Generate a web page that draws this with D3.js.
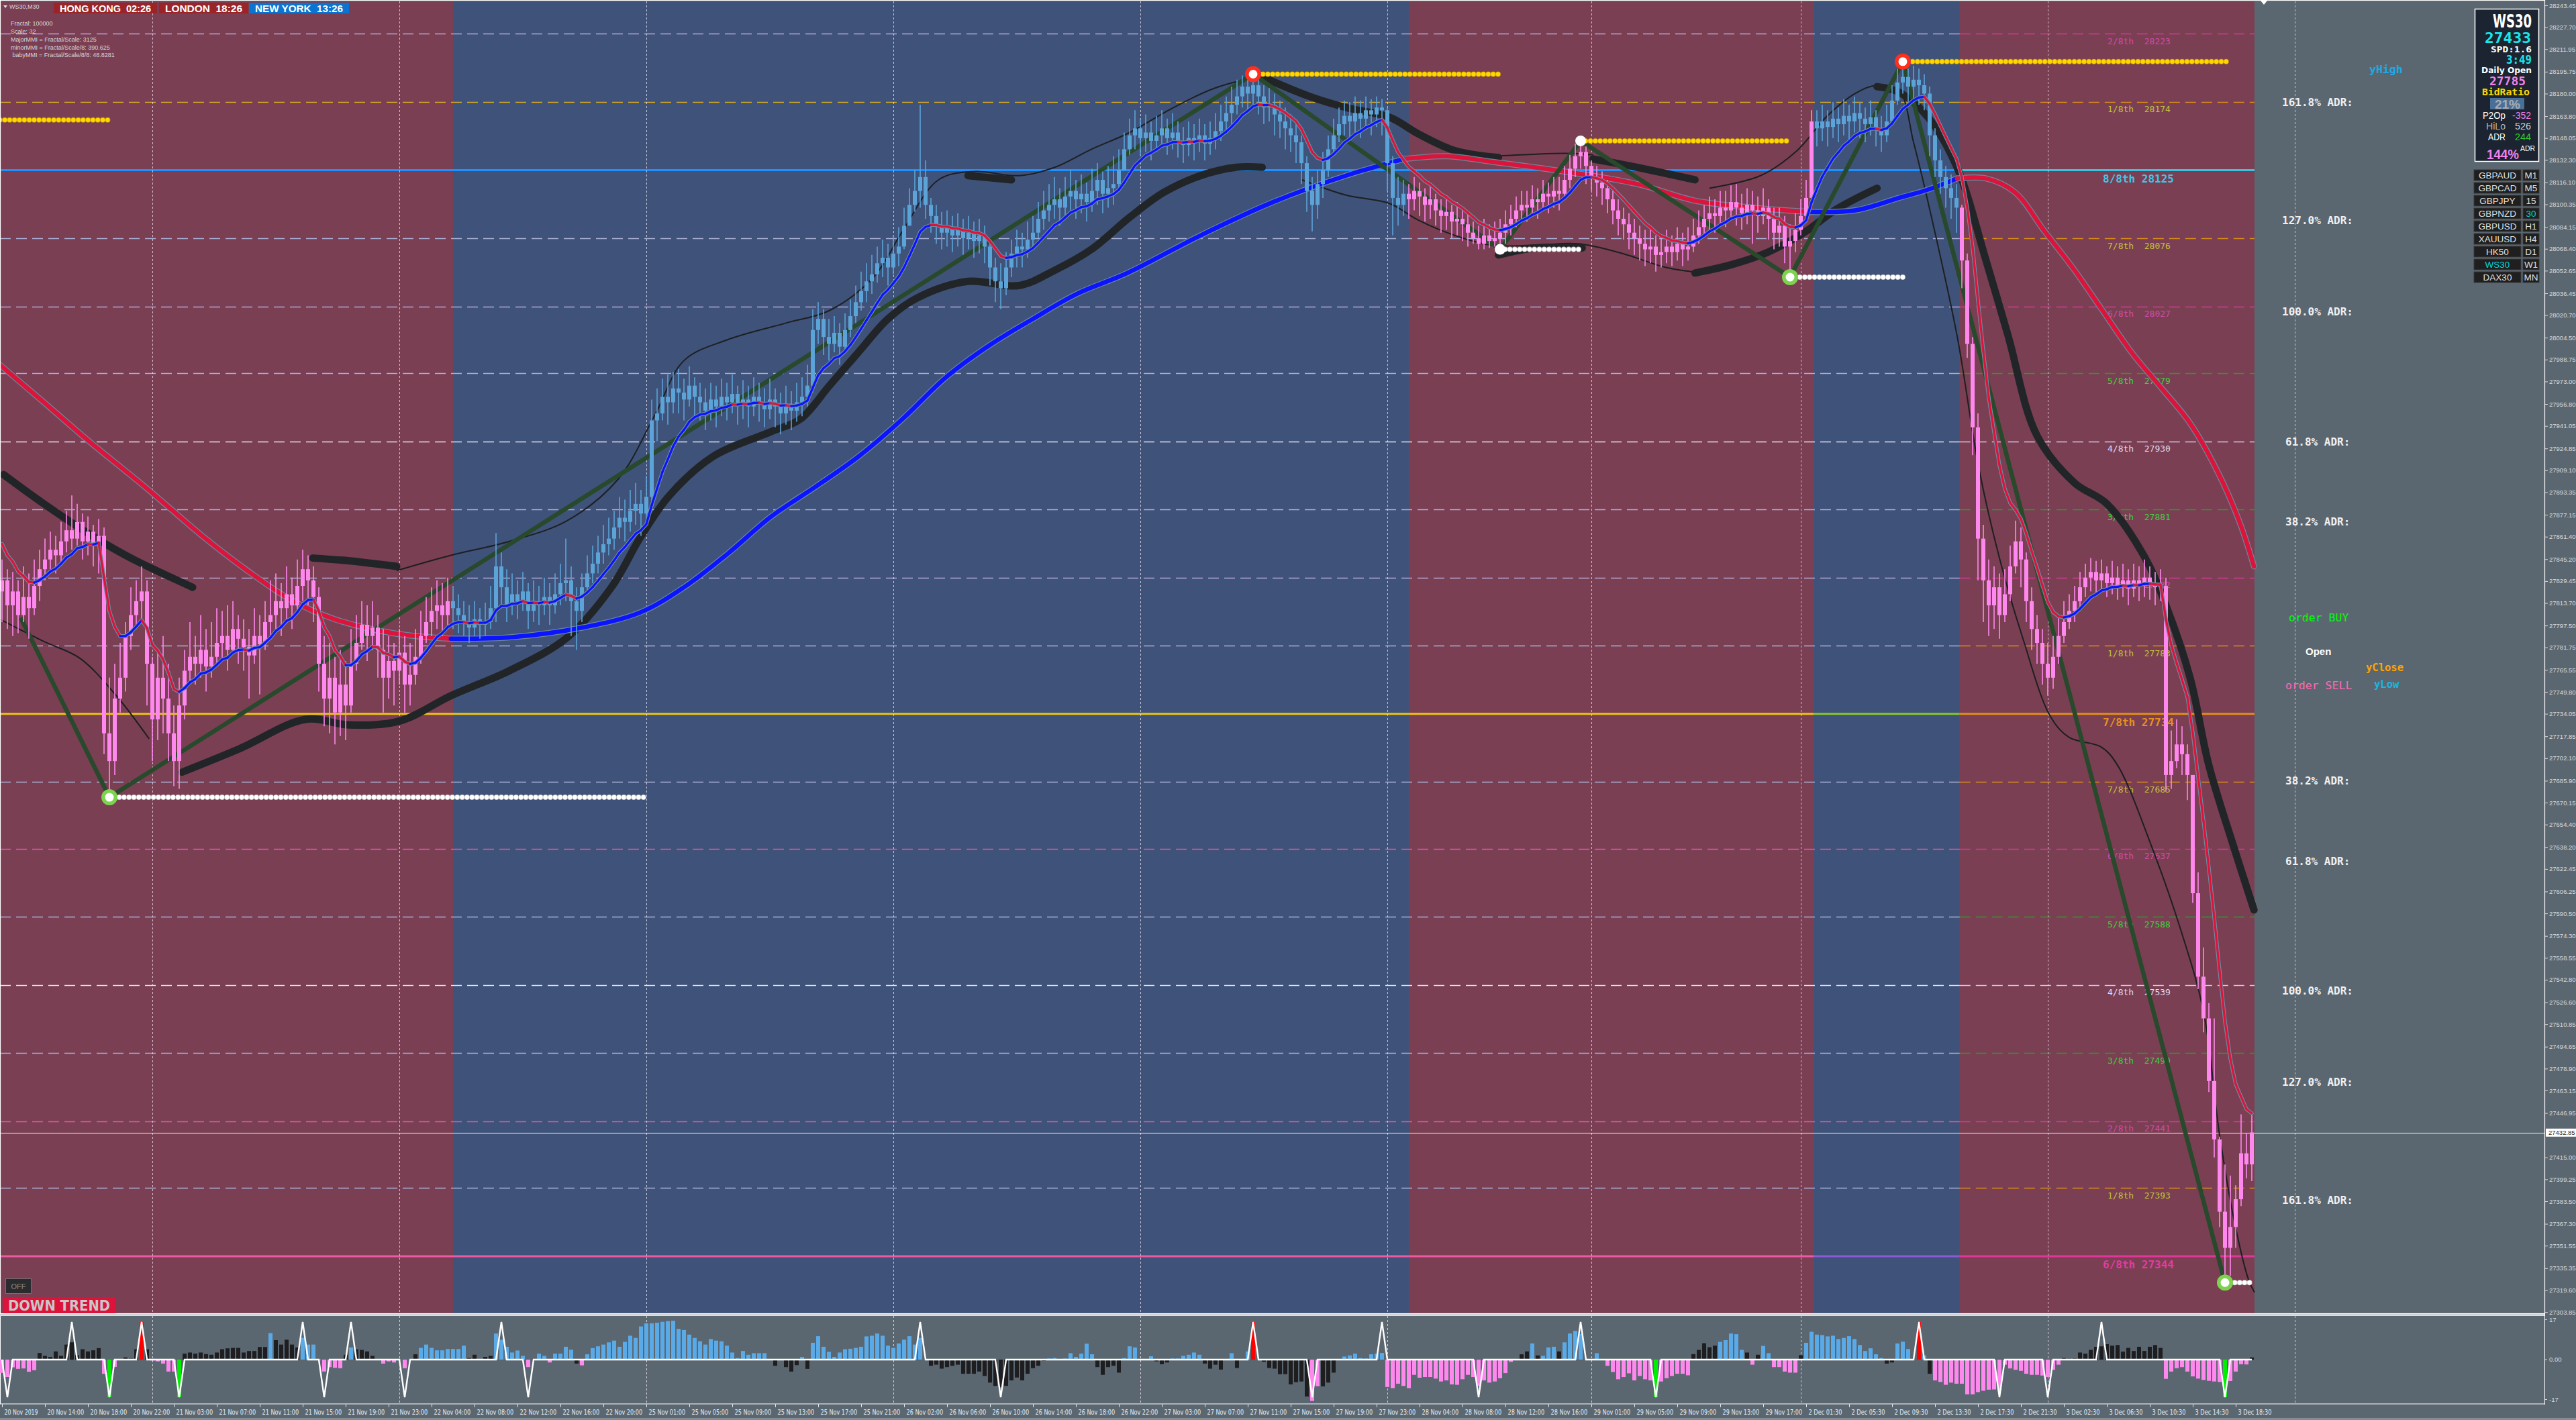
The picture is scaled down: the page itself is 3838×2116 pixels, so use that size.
<!DOCTYPE html>
<html><head><meta charset="utf-8"><title>WS30,M30</title>
<script src="https://cdn.jsdelivr.net/npm/d3@7"></script>
<style>html,body{margin:0;padding:0;background:#5b6770;overflow:hidden}svg{display:block}</style>
</head><body><svg id="chart" width="3838" height="2116"></svg>
<script>
// ---------------- DATA ----------------
const closes=[
27830,27812,27822,27805,27818,27810,27826,27838,27845,27852,
27848,27858,27866,27860,27872,27858,27865,27855,27862,27720,
27700,27745,27760,27790,27805,27815,27822,27770,27730,27760,
27745,27720,27700,27740,27765,27775,27770,27780,27768,27775,
27785,27790,27780,27795,27788,27782,27776,27790,27784,27800,
27805,27815,27810,27820,27812,27826,27838,27830,27818,27770,
27745,27760,27735,27755,27740,27770,27785,27798,27790,27796,
27780,27760,27772,27765,27778,27755,27762,27775,27790,27800,
27808,27812,27805,27815,27810,27805,27800,27796,27802,27798,
27800,27810,27840,27825,27812,27820,27815,27822,27808,27815,
27812,27818,27812,27820,27828,27830,27815,27808,27825,27835,
27842,27850,27856,27860,27868,27875,27872,27880,27885,27878,
27890,27945,27950,27962,27958,27968,27965,27960,27970,27962,
27958,27952,27960,27955,27962,27958,27964,27956,27960,27955,
27962,27958,27953,27960,27955,27950,27957,27952,27958,27962,
27970,28010,28018,28005,28000,28008,27998,28010,28020,28030,
28038,28045,28050,28058,28062,28055,28065,28070,28085,28100,
28110,28120,28100,28092,28085,28080,28084,28078,28082,28076,
28080,28074,28078,28070,28055,28045,28040,28055,28065,28070,
28068,28075,28080,28090,28096,28100,28104,28098,28106,28110,
28104,28108,28102,28110,28118,28108,28112,28115,28125,28140,
28150,28155,28148,28152,28146,28150,28155,28148,28152,28146,
28143,28148,28145,28150,28144,28148,28153,28160,28166,28172,
28178,28185,28180,28186,28178,28170,28172,28165,28160,28155,
28150,28145,28130,28110,28100,28115,28125,28140,28150,28158,
28164,28160,28166,28162,28168,28165,28170,28168,28130,28105,
28100,28108,28104,28110,28106,28100,28104,28096,28092,28095,
28088,28090,28086,28080,28076,28072,28078,28074,28076,28080,
28086,28090,28096,28100,28098,28104,28102,28108,28106,28110,
28108,28118,28126,28135,28138,28128,28120,28116,28112,28104,
28096,28090,28086,28080,28076,28072,28068,28070,28064,28066,
28070,28066,28072,28068,28070,28078,28084,28090,28094,28092,
28098,28096,28102,28098,28094,28100,28096,28092,28098,28090,
28080,28085,28070,28074,28082,28092,28105,28160,28155,28160,
28156,28162,28158,28164,28160,28166,28162,28158,28163,28155,
28150,28160,28175,28188,28192,28185,28190,28186,28180,28150,
28132,28120,28112,28105,28098,28060,28000,27940,27860,27830,
27812,27825,27805,27820,27840,27858,27845,27815,27795,27785,
27770,27760,27775,27790,27800,27808,27815,27825,27832,27836,
27830,27835,27828,27832,27826,27830,27824,27830,27826,27832,
27828,27825,27826,27690,27700,27712,27705,27690,27605,27545,
27515,27470,27428,27376,27350,27365,27385,27418,27410,27433];
const highs=[
27845,27838,27836,27830,27840,27835,27845,27852,27860,27865,
27862,27872,27880,27891,27885,27878,27876,27870,27874,27868,
27760,27770,27785,27800,27825,27830,27840,27830,27775,27780,
27790,27770,27740,27760,27780,27800,27790,27805,27795,27800,
27810,27808,27812,27815,27805,27802,27795,27810,27805,27815,
27830,27835,27828,27840,27832,27845,27852,27848,27840,27825,
27790,27785,27775,27780,27772,27795,27805,27815,27812,27815,
27805,27795,27790,27785,27795,27790,27785,27795,27808,27818,
27825,27830,27828,27832,27826,27820,27815,27812,27815,27810,
27814,27826,27864,27850,27838,27835,27830,27836,27828,27830,
27826,27832,27828,27835,27842,27860,27840,27825,27835,27848,
27855,27862,27870,27875,27880,27890,27888,27895,27900,27895,
27905,27960,27968,27975,27978,27980,27982,27975,27984,27976,
27972,27968,27972,27970,27975,27972,27978,27970,27974,27970,
27976,27972,27968,27975,27968,27965,27970,27966,27972,27976,
27985,28025,28030,28025,28018,28020,28015,28022,28032,28042,
28052,28058,28064,28070,28075,28072,28078,28084,28098,28112,
28125,28172,28132,28105,28100,28095,28096,28092,28094,28090,
28092,28088,28090,28085,28075,28062,28058,28066,28075,28082,
28080,28088,28092,28102,28110,28115,28120,28112,28120,28125,
28118,28122,28116,28126,28130,28124,28128,28135,28140,28152,
28162,28168,28162,28165,28160,28164,28168,28162,28166,28160,
28156,28160,28158,28162,28158,28160,28166,28172,28178,28185,
28190,28193,28190,28194,28190,28186,28184,28180,28175,28170,
28165,28160,28150,28135,28120,28125,28138,28150,28162,28170,
28175,28174,28178,28175,28178,28176,28178,28176,28170,28135,
28120,28118,28115,28120,28116,28112,28114,28108,28104,28106,
28100,28102,28098,28094,28088,28085,28090,28086,28088,28090,
28096,28100,28106,28110,28110,28114,28112,28118,28116,28120,
28120,28128,28136,28144,28146,28142,28132,28128,28124,28118,
28110,28104,28098,28094,28090,28085,28082,28082,28078,28078,
28082,28078,28084,28080,28084,28090,28096,28100,28106,28104,
28110,28110,28114,28115,28108,28112,28110,28106,28112,28104,
28098,28098,28092,28086,28094,28104,28118,28168,28168,28172,
28168,28174,28170,28176,28172,28178,28174,28170,28175,28168,
28164,28172,28186,28198,28203,28198,28200,28198,28194,28185,
28155,28140,28128,28122,28115,28100,28065,28005,27950,27870,
27845,27840,27835,27838,27855,27873,27868,27850,27825,27805,
27795,27785,27790,27805,27815,27820,27826,27836,27842,27846,
27844,27845,27840,27844,27840,27842,27838,27842,27840,27845,
27840,27836,27838,27832,27722,27730,27725,27712,27690,27620,
27566,27526,27515,27430,27410,27402,27395,27446,27432,27446];
const lows=[
27800,27795,27790,27792,27800,27788,27805,27815,27830,27838,
27835,27842,27850,27852,27855,27845,27848,27840,27835,27705,
27674,27690,27735,27750,27780,27795,27800,27740,27700,27715,
27720,27700,27682,27680,27730,27755,27755,27760,27750,27760,
27770,27772,27765,27778,27770,27765,27745,27770,27748,27780,
27790,27795,27790,27800,27795,27808,27815,27812,27800,27750,
27725,27720,27712,27718,27715,27735,27765,27780,27772,27780,
27760,27735,27745,27740,27755,27735,27740,27755,27770,27785,
27790,27795,27790,27798,27795,27792,27790,27785,27790,27788,
27790,27795,27800,27810,27800,27805,27802,27808,27795,27800,
27798,27805,27798,27806,27812,27815,27790,27780,27800,27820,
27828,27835,27842,27848,27852,27860,27858,27865,27870,27862,
27870,27885,27930,27945,27942,27950,27950,27945,27955,27948,
27945,27938,27945,27940,27948,27945,27950,27942,27946,27940,
27948,27944,27940,27946,27940,27935,27942,27938,27944,27948,
27955,27965,28000,27992,27988,27994,27985,27995,28005,28015,
28024,28030,28036,28044,28048,28042,28050,28056,28068,28085,
28095,28098,28090,28080,28072,28068,28070,28066,28070,28064,
28068,28062,28065,28058,28042,28030,28025,28035,28048,28055,
28055,28062,28068,28076,28082,28088,28090,28085,28092,28096,
28090,28094,28088,28095,28100,28094,28098,28100,28110,28125,
28136,28140,28135,28138,28132,28138,28142,28136,28140,28134,
28130,28135,28132,28138,28132,28136,28140,28146,28152,28158,
28165,28170,28168,28172,28165,28158,28160,28150,28148,28140,
28138,28130,28115,28095,28081,28090,28105,28120,28135,28145,
28150,28148,28152,28148,28154,28150,28156,28150,28110,28078,
28085,28092,28090,28096,28092,28088,28090,28085,28080,28082,
28076,28078,28074,28070,28072,28068,28068,28069,28070,28068,
28072,28078,28084,28088,28088,28092,28090,28096,28094,28098,
28096,28104,28112,28120,28126,28115,28110,28106,28100,28094,
28086,28078,28075,28068,28064,28060,28056,28058,28052,28055,
28058,28056,28060,28056,28060,28066,28072,28078,28082,28080,
28086,28084,28090,28085,28082,28086,28072,28080,28086,28075,
28068,28070,28058,28048,28066,28078,28088,28100,28142,28146,
28142,28148,28145,28150,28146,28152,28148,28145,28150,28142,
28138,28145,28158,28172,28180,28172,28176,28172,28168,28135,
28120,28108,28098,28090,28080,28040,27990,27920,27830,27800,
27790,27795,27788,27800,27815,27835,27825,27800,27780,27770,
27755,27747,27752,27770,27785,27795,27800,27810,27818,27822,
27820,27822,27818,27820,27816,27818,27812,27818,27815,27818,
27816,27812,27815,27678,27680,27695,27690,27672,27598,27536,
27505,27462,27415,27365,27325,27330,27350,27380,27400,27398];
const firstOpen=27822;
const currentPrice=27432.85;

// session (background trend) regions, in bar units
const sessionStart=[-0.5,84,262,337.4,364.6];
const sessionEnd=[84,262,337.4,364.6,419.5];
const sessionTrend=['down','up','down','up','down'];
// day separators (bar index)
const daySeps=[28,74,120,166,212,258,296,335,381,427];

// Murrey math levels
const murreyLevels=[28223,28174,28076,28027,27979,27930,27881,27832,27783,27685,27637,27588,27539,27490,27441,27393];
const murreyNames=["2/8th","1/8th","7/8th","6/8th","5/8th","4/8th","3/8th","2/8th","1/8th","7/8th","6/8th","5/8th","4/8th","3/8th","2/8th","1/8th"];
const majorLevels=[28125,27734,27344];
const majorNames=["8/8th","7/8th","6/8th"];

// ADR levels
const dailyOpen=27785, adrValue=244;
const adrRatios=[1.618,1.27,1.0,0.618,0.382,-0.382,-0.618,-1.0,-1.27,-1.618];
const adrLabels=["161.8% ADR:","127.0% ADR:","100.0% ADR:","61.8% ADR:","38.2% ADR:","38.2% ADR:","61.8% ADR:","100.0% ADR:","127.0% ADR:","161.8% ADR:"];
const orderBuy=27809, orderSell=27760, yClose=27772, yLow=27766, yHigh=28203;

// indicator lines: [bar, price]
const thinBlack=[
[[-0.4,27802],[7.8,27786],[14.5,27774],[21.3,27747],[27.4,27716]],
[[73.5,27837],[83.6,27848],[94.5,27858],[105.3,27873],[114.8,27903],[121.6,27949],[127,27988],[135.1,28003],[146,28015],[154.1,28024],[162.3,28048],[167.7,28081],[174.4,28118],[181.2,28124],[189.4,28121],[196.1,28127],[202.9,28140],[210,28152],[217.7,28169],[225.9,28184],[232.6,28190],[238.1,28187]],
[[242.1,28118],[250.3,28107],[258.4,28101],[263.8,28089],[270.6,28078],[277.4,28071],[285.5,28071],[293.6,28072],[301.8,28065],[309.9,28055],[316.7,28051]],
[[266.5,28134],[277.4,28135],[290.9,28137],[296.3,28136]],
[[318,28112],[327.5,28121],[334.3,28139],[339.7,28163],[345.1,28180],[349.2,28186],[353.3,28182],[356,28145],[358.7,28102],[364.1,28006],[368.2,27910],[372.2,27843],[376.3,27789],[381.5,27732],[385,27717],[391,27710],[394,27697],[400.5,27637],[405.9,27577],[410,27520],[413,27431],[415.9,27366],[418.4,27327],[419.5,27318]]
];
const thickBlack=[
[[0.3,27906],[7.8,27885],[17.2,27861],[24,27846],[35.5,27825]],
[[57.9,27846],[64.7,27844],[73.5,27840]],
[[33.5,27692],[44.3,27709],[56.5,27730],[64.7,27726],[74.2,27729],[83.6,27747],[94.5,27765],[105.3,27789],[113.5,27825],[118.9,27861],[124.3,27891],[132.4,27919],[143.3,27937],[148.7,27946],[154.1,27970],[159.5,27994],[165,28018],[170.4,28033],[179.9,28045],[189.4,28042],[196.1,28053],[202.9,28068],[210,28091],[216.4,28109],[223.2,28121],[229.9,28127],[234.7,28127]],
[[179.9,28121],[188,28118]],
[[234.7,28192],[243.5,28178],[250.3,28170],[258.4,28163],[263.8,28151],[270.6,28139],[278.7,28134]],
[[296.3,28133],[304.5,28127],[315.3,28118]],
[[278.7,28064],[285.5,28069],[294.3,28069]],
[[315.3,28051],[322.1,28057],[328.9,28066],[335.6,28080],[341.7,28097],[349.2,28112]],
[[349.2,28185],[353.3,28181],[358.7,28163],[364.1,28127],[369.5,28060],[373.6,28006],[379,27934],[386,27900],[392,27885],[399,27847],[403,27812],[407.5,27760],[411,27697],[415.5,27640],[419.4,27593]]
];
const slowMA=[
[[-0.4,27985],[7.8,27958],[15.9,27931],[26.7,27897],[37.6,27861],[45.7,27837],[53.8,27816],[62,27802],[72.8,27792],[83.6,27788]],
[[83.6,27788],[94.5,27789],[108,27796],[118.9,27807],[127,27825],[135.1,27849],[143.3,27876],[151.4,27897],[159.5,27919],[167.7,27946],[175.8,27976],[183.9,27999],[192,28018],[200.2,28036],[209.6,28051],[223.2,28078],[236.7,28102],[250.3,28121],[261.1,28133]],
[[261.1,28133],[269.2,28135],[277.4,28131],[290.9,28124],[304.5,28115],[315.3,28103],[326.2,28098],[336.3,28095]],
[[336.3,28095],[345.1,28096],[353.3,28105],[358.7,28111],[364.1,28119]],
[[364.1,28119],[369.5,28119],[374.9,28109],[380.4,28081],[385.8,28054],[391.2,28024],[396.6,27994],[402,27969],[407.5,27943],[412.9,27906],[416.9,27870],[419.4,27840]]
];
const slowMADir=['down','up','down','up','down'];
const fastPeriod=10, fastSeed=27862;
const zigzag=[[3.5,27803],[20,27674],[233,28194],[279,28068],[294,28146],[333,28048],[354,28203],[414,27325]];
const fractals=[
{bar:20,type:'low',kind:'green',to:120},
{bar:233,type:'high',kind:'red',to:279.4},
{bar:279,type:'low',kind:'white',to:294.4},
{bar:294,type:'high',kind:'white',to:333},
{bar:333,type:'low',kind:'green',to:354.3},
{bar:354,type:'high',kind:'red',to:414.5},
{bar:414,type:'low',kind:'green',to:419.4}];
const priorHigh={price:28161,from:-0.4,to:20.3};

// oscillator sub-window
const histVal=[
-6,-7.9,-3.5,-4.2,-4,-5.5,-4.8,3,1.7,1.2,
3.7,1.7,6.8,7.8,2,4.7,3.7,4.2,5.2,-6.4,
-17,-3.3,0,1,0.5,4.7,17,4.7,-0.4,-0.8,
-1.8,-5.4,-5.4,-17,2.7,3.2,2.7,3.2,2.5,2.2,
3.2,4.7,5.1,5.3,5.3,3.2,3.9,3.9,5.7,5.7,
12,8.8,6.8,9,6.8,5.5,9.9,6.8,6.8,-0.3,
-5.4,-3.4,-3.7,-3.9,2.2,5.5,4.7,4.4,3.7,1.7,
0,-1.8,-0.8,-1.3,-0.3,-3.9,0,2.4,5.3,6.8,
5.3,4.2,4.2,4.8,4.8,4.8,6.3,0.7,2.2,0,
1.2,1.7,11.8,9,5.8,3.2,4.1,1.7,-3.4,0,
2.7,1.7,-1.3,2.7,2.7,5.8,4.5,-1.8,-2.6,2.4,
5.2,6,6.8,7.8,8.6,5.8,8,10.8,9.8,15,
16.4,16.4,16.7,17.1,17.4,17.6,13.9,13.4,11.3,9.8,
8.3,6.8,9.3,8.6,8.3,6.3,3.2,0.7,3.9,2.2,
2.9,2.9,2.9,0,-2.8,0,-3.4,-5.4,-2.5,1.2,
-4.2,7.6,10.6,5.8,3.5,1.2,3.2,4.7,4.9,5.3,
5.8,10.5,10.8,11.8,10.8,6.3,5.3,7.3,9,10.6,
6.8,9.8,0,-2.8,-2.3,-4.1,-3.4,-2.8,-2.3,-6.4,
-6.4,-6.4,-5.4,-7.4,-10.4,-11.9,-12.5,-11.9,-9.4,-8.1,
-9.4,-6.4,-3.9,-2.8,-0.6,0.5,0.7,0.3,0.5,2.9,
1.2,2.7,7.2,2.4,-3.4,-6.9,-3.4,-2.8,-5.9,0.7,
6,5.5,0,-0.3,1.5,-0.8,-2.1,-1.3,0.5,0.5,
1.7,2.2,3.2,2.2,-1.8,-4.1,-2.3,-4.5,0,2.9,
-3.8,0,3.7,17,0,-1,-3.8,-4.1,-6.6,-6.6,
-11.2,-10.2,-9.9,-16.7,-18.7,-12,-12.1,-10.4,-5.9,0,
1.4,1.9,2.7,0.7,0.5,2.4,2.7,3,-12.4,-12.9,
-10.9,-11.9,-12.9,-6.9,-8.2,-7.9,-7.9,-8.6,-9.9,-9.4,
-11.2,-11.4,-8.9,-6.9,-7.9,-11.9,-9.4,-10.4,-9.9,-8.4,
-6.1,-1,0,2.4,3.7,7.3,1.9,1.7,5.5,5.8,
3.7,7.8,11.8,13,11.6,0,0,2.9,0,-2.8,
-5.6,-8.9,-7.9,-6.2,-9.4,-7.4,-8.9,-9.4,-17,-9.9,
-8.4,-7.4,-6.4,-6.4,-7.1,2.5,4.4,7.4,5.6,6.3,
8,8.8,11.8,11.5,4.4,3.2,-2.3,2.2,6.2,2.9,
-3.4,-3.4,-5.4,-5.9,-5.9,2,7.6,12.6,11.3,11.1,
10.5,10.8,9.3,9.8,10.6,9.3,6.6,3.9,5.1,2.4,
0.7,-1.8,-1.3,7.3,8.1,4.8,0,17,1.9,-6.4,
-9.4,-10.1,-11.4,-10.4,-10.9,-10.9,-15.7,-15.7,-14.7,-14.1,
-13.6,-13.5,-14,-2.3,-4,-4.6,-5.1,-6.4,-6.9,-6.9,
-7.2,-7.9,-4.6,-2.3,0.7,0.4,0.5,3.2,2.7,4.4,
5.8,6,7,6.3,6.6,3.6,5.3,3.9,5.8,3.9,
5.8,6.6,5.3,-8.7,-5.4,-3.9,-3.4,-5.4,-7.6,-8.6,
-9.2,-9.6,-9.9,-10.1,-17,-9.7,-5.4,-2.1,-2.2,1];
const histClass=(
"pppppppkkk"+"kkkkkkkkkp"+"gpkkkkrkpp"+"pppgkkkkkk"+"kkkkkkkkkk"+
"bkkkkkbbbp"+"ppppkbkkkk"+"kpppppkkbb"+"bbbbbbbkkk"+"kkbbbbbbpk"+
"bbpbbbbkpb"+"bbbbbbbbbb"+"bbbbbbbbbb"+"bbbbbbbbbb"+"bbbkkkkkkb"+
"kbbbbbbbbb"+"bbbbbbbbbb"+"bbkkkkkkkk"+"kkkkkkkkkk"+"kkkkkbbbbb"+
"bbbbkkkkkb"+"bbkkbkkkbb"+"bbbbkkkkkb"+"kkbrkkkkkk"+"kkkkppkkkk"+
"bbbbbbbbpp"+"pppppppppp"+"pppppppppp"+"ppkkkbkbbb"+"kbbbbkkbkp"+
"ppppppppgp"+"pppppkkkkk"+"bbbbbkpkbb"+"pppppkbbbb"+"bbbbbbbbbb"+
"bkkbbbkrbk"+"pppppppppp"+"pppppppppp"+"ppppkkkkkk"+"kkkkkkkkkk"+
"kkkppppppp"+"ppppgppppk").split('');
const spikeUp=[13,26,56,65,93,171,233,257,294,357,391];
const spikeDown=[1,20,33,60,75,98,186,244,275,308,372,381,414];

// axes
const priceTicks=[28243.45,28227.70,28211.95,28195.75,28180.00,28163.80,28148.05,28132.30,28116.10,28100.35,28084.15,28068.40,28052.65,28036.45,28020.70,28004.50,27988.75,27973.00,27956.80,27941.05,27924.85,27909.10,27893.35,27877.15,27861.40,27845.20,27829.45,27813.70,27797.50,27781.75,27765.55,27749.80,27734.05,27717.85,27702.10,27685.90,27670.15,27654.40,27638.20,27622.45,27606.25,27590.50,27574.30,27558.55,27542.80,27526.60,27510.85,27494.65,27478.90,27463.15,27446.95,27415.00,27399.25,27383.50,27367.30,27351.55,27335.35,27319.60,27303.85];
const timeLabels=["20 Nov 2019","20 Nov 14:00","20 Nov 18:00","20 Nov 22:00","21 Nov 03:00","21 Nov 07:00","21 Nov 11:00","21 Nov 15:00","21 Nov 19:00","21 Nov 23:00","22 Nov 04:00","22 Nov 08:00","22 Nov 12:00","22 Nov 16:00","22 Nov 20:00","25 Nov 01:00","25 Nov 05:00","25 Nov 09:00","25 Nov 13:00","25 Nov 17:00","25 Nov 21:00","26 Nov 02:00","26 Nov 06:00","26 Nov 10:00","26 Nov 14:00","26 Nov 18:00","26 Nov 22:00","27 Nov 03:00","27 Nov 07:00","27 Nov 11:00","27 Nov 15:00","27 Nov 19:00","27 Nov 23:00","28 Nov 04:00","28 Nov 08:00","28 Nov 12:00","28 Nov 16:00","29 Nov 01:00","29 Nov 05:00","29 Nov 09:00","29 Nov 13:00","29 Nov 17:00","2 Dec 01:30","2 Dec 05:30","2 Dec 09:30","2 Dec 13:30","2 Dec 17:30","2 Dec 21:30","3 Dec 02:30","3 Dec 06:30","3 Dec 10:30","3 Dec 14:30","3 Dec 18:30"];
const subTicks=[17,0,-17];

// info panel values
const symbolName='WS30', timeframe='M30', bidPrice=27433, spread='1.6', barTimer='3:49';
const bidRatio=21, p2op=-352, hiLo=526, adrPct=144;
const clocks=[["HONG KONG","02:26"],["LONDON","18:26"],["NEW YORK","13:26"]];
const symbols=["GBPAUD","GBPCAD","GBPJPY","GBPNZD","GBPUSD","XAUUSD","HK50","WS30","DAX30"];
const periods=["M1","M5","15","30","H1","H4","D1","W1","MN"];
const mmiInfo=["Fractal: 100000","Scale: 32","MajorMMI = Fractal/Scale: 3125","minorMMI = Fractal/Scale/8: 390.625","\u00a0babyMMI = Fractal/Scale/8/8: 48.8281"];

// ---------------- DRAWING ----------------
const W=3838,H=2116,AX=3791;
const MONO='"DejaVu Sans Mono","Liberation Mono",monospace';
const SANS='"Liberation Sans",Arial,sans-serif';
const NARROW='"Liberation Sans Narrow","DejaVu Sans Condensed","Liberation Sans",sans-serif';
const svg=d3.select('#chart');
const N=closes.length;
const x=d3.scaleLinear().domain([0,419]).range([3,3355]);
const y=d3.scaleLinear().domain([27303.85,28243.45]).range([1955.1,8]);
const ys=d3.scaleLinear().domain([-17,17]).range([2082,1970]);

svg.append('rect').attr('width',W).attr('height',H).attr('fill','#5b6770');
const defs=svg.append('defs');
defs.append('clipPath').attr('id','mc').append('rect').attr('x',1).attr('y',2).attr('width',AX-1).attr('height',1955);
const main=svg.append('g').attr('clip-path','url(#mc)');

const trendFill={down:'#7a3f53',up:'#3f5279'};
sessionStart.forEach((s,i)=>main.append('rect').attr('x',x(s)).attr('y',2)
  .attr('width',x(sessionEnd[i])-x(s)).attr('height',1956).attr('fill',trendFill[sessionTrend[i]]));
function trendAt(b){for(let i=0;i<sessionStart.length;i++){if(b>=sessionStart[i]&&b<sessionEnd[i])return sessionTrend[i];}return 'down';}

// Murrey lines
const lastX=x(sessionStart[4]), midX=x(sessionStart[3]), endX=x(sessionEnd[4]);
const kindOf=n=>({'1/8th':'o','7/8th':'o','2/8th':'p','6/8th':'p','3/8th':'g','5/8th':'g','4/8th':'w'})[n];
const newLine={o:'#d98c1a',p:'#cf3c96',g:'#2c9a2c',w:'#d4c8e6'};
const newText={o:'#c4c238',p:'#d24aa6',g:'#3ed03e',w:'#e0d8ee'};
function oldLine(n,lv){const k=kindOf(n);if(k==='o')return lv>28100?'#d8aa22':'#aab0d6';if(k==='p')return lv<27700?'#dc5aa4':'#b6a8d6';if(k==='w')return '#e2e2f0';return '#aab0d6';}
murreyLevels.forEach((lv,i)=>{
  const yy=Math.round(y(lv))+0.5, k=kindOf(murreyNames[i]);
  main.append('line').attr('x1',0).attr('x2',lastX).attr('y1',yy).attr('y2',yy)
    .attr('stroke',oldLine(murreyNames[i],lv)).attr('stroke-width',1.3).attr('stroke-dasharray','16,8');
  main.append('line').attr('x1',lastX).attr('x2',endX).attr('y1',yy).attr('y2',yy)
    .attr('stroke',newLine[k]).attr('stroke-width',1.3).attr('stroke-dasharray','16,8');
  main.append('text').attr('x',3140).attr('y',y(lv)+11).attr('dominant-baseline','central')
    .attr('fill',newText[k]).style('font-family',MONO).style('font-size','13px')
    .text(murreyNames[i]+'\u00a0\u00a0'+lv);
});
const majorCols=[['#1e90ff','#1e90ff','#38c4e0'],['#ecc414','#86c82a','#e08e1c'],['#ee5aa0','#8c5ad2','#e0369a']];
const majorText=['#3cc8e8','#e8901c','#e03ca0'];
majorLevels.forEach((lv,i)=>{
  const yy=y(lv);
  [[0,midX],[midX,lastX],[lastX,endX]].forEach((s,j)=>main.append('line').attr('x1',s[0]).attr('x2',s[1])
    .attr('y1',yy).attr('y2',yy).attr('stroke',majorCols[i][j]).attr('stroke-width',3));
  main.append('text').attr('x',3133).attr('y',yy+13).attr('dominant-baseline','central')
    .attr('fill',majorText[i]).style('font-family',MONO).style('font-size','16px').style('font-weight','bold')
    .text(majorNames[i]+'\u00a0'+lv);
});

// day separators
daySeps.forEach(b=>{const xx=Math.round(x(b))+0.5;
  main.append('line').attr('x1',xx).attr('x2',xx).attr('y1',2).attr('y2',1957)
   .attr('stroke','#ece2ee').attr('stroke-opacity',0.8).attr('stroke-width',1).attr('stroke-dasharray','3,3');});
// current price line
main.append('line').attr('x1',0).attr('x2',AX).attr('y1',Math.round(y(currentPrice))+0.5).attr('y2',Math.round(y(currentPrice))+0.5)
  .attr('stroke','#ffffff').attr('stroke-width',1);

const smooth=d3.line().x(d=>x(d[0])).y(d=>y(d[1])).curve(d3.curveCatmullRom.alpha(0.5));
const straight=d3.line().x(d=>x(d[0])).y(d=>y(d[1]));
thinBlack.forEach(seg=>main.append('path').attr('d',smooth(seg)).attr('fill','none').attr('stroke','#1d1f22').attr('stroke-width',2));
thickBlack.forEach(seg=>main.append('path').attr('d',smooth(seg)).attr('fill','none').attr('stroke','#222528')
  .attr('stroke-width',11).attr('stroke-linecap','round').attr('stroke-linejoin','round'));
const maCol={up:'#0a14ff',down:'#dc143c'};
slowMA.forEach(seg=>main.append('path').attr('d',smooth(seg)).attr('fill','none').attr('stroke','#6c8598').attr('stroke-width',9).attr('stroke-linecap','round'));
slowMA.forEach((seg,i)=>main.append('path').attr('d',smooth(seg)).attr('fill','none').attr('stroke',maCol[slowMADir[i]]).attr('stroke-width',6.5).attr('stroke-linecap','round'));
main.append('path').attr('d',straight(zigzag)).attr('fill','none').attr('stroke','#28492c').attr('stroke-width',6.5).attr('stroke-linejoin','round');

// candles
const candleCol={down:'#ff88ee',up:'#5ca4d8'};
const cg=main.append('g');
closes.forEach((c,i)=>{
  const o=i?closes[i-1]:firstOpen;
  const hi=Math.max(highs[i],o,c), lo=Math.min(lows[i],o,c);
  const col=candleCol[trendAt(i)];
  cg.append('line').attr('x1',x(i)).attr('x2',x(i)).attr('y1',y(hi)).attr('y2',y(lo)).attr('stroke',col).attr('stroke-width',1.6);
  const top=Math.min(y(o),y(c)), h=Math.max(1.5,Math.abs(y(o)-y(c)));
  cg.append('rect').attr('x',x(i)-3).attr('y',top).attr('width',6).attr('height',h).attr('fill',col);
});

// fast MA (EMA of closes)
const fast=[];{let e=fastSeed;const a=2/(fastPeriod+1);closes.forEach(c=>{e=e+a*(c-e);fast.push(e);});}
const fg=main.append('g');
for(let i=1;i<N;i++) fg.append('line').attr('x1',x(i-1)).attr('y1',y(fast[i-1])).attr('x2',x(i)).attr('y2',y(fast[i]))
  .attr('stroke','#6f8aa0').attr('stroke-width',5.5).attr('stroke-linecap','round');
for(let i=1;i<N;i++) fg.append('line').attr('x1',x(i-1)).attr('y1',y(fast[i-1])).attr('x2',x(i)).attr('y2',y(fast[i]))
  .attr('stroke',fast[i]>=fast[i-1]?maCol.up:maCol.down).attr('stroke-width',3.2).attr('stroke-linecap','round');

// fractal bead lines and markers
function beads(x1,x2,yy,col){
  main.append('line').attr('x1',x1).attr('x2',x2).attr('y1',yy).attr('y2',yy).attr('stroke',col==='#ffffff'?'#c8c8c8':'#c99a00')
   .attr('stroke-width',8).attr('stroke-linecap','round').attr('stroke-dasharray','0,7.3');
  main.append('line').attr('x1',x1).attr('x2',x2).attr('y1',yy).attr('y2',yy).attr('stroke',col)
   .attr('stroke-width',6.4).attr('stroke-linecap','round').attr('stroke-dasharray','0,7.3');
}
beads(x(priorHigh.from),x(priorHigh.to),y(priorHigh.price),'#ffd700');
fractals.forEach(f=>{const p=f.type==='high'?highs[f.bar]:lows[f.bar];beads(x(f.bar),x(f.to),y(p),f.type==='high'?'#ffd700':'#ffffff');});
const ringCol={red:'#ff2e1e',green:'#7dd24e',white:'#ffffff'};
fractals.forEach(f=>{const p=f.type==='high'?highs[f.bar]:lows[f.bar];
  const r=f.kind==='white'?8:12;
  main.append('circle').attr('cx',x(f.bar)).attr('cy',y(p)).attr('r',r).attr('fill',ringCol[f.kind]);
  main.append('circle').attr('cx',x(f.bar)).attr('cy',y(p)).attr('r',f.kind==='white'?5:6.5).attr('fill','#ffffff');
});

// panel borders
svg.append('rect').attr('x',0.5).attr('y',0.5).attr('width',AX).attr('height',1957).attr('fill','none').attr('stroke','#ffffff').attr('stroke-width',1.2);
svg.append('path').attr('d','M3368,1 L3378,1 L3373,7 Z').attr('fill','#ffffff');

function T(g,s,xx,yy,o){const t=g.append('text').attr('x',xx).attr('y',yy).attr('dominant-baseline','central').text(s)
  .attr('fill',o.fill||'#ffffff').style('font-family',o.ff||SANS).style('font-size',o.fs+'px').style('font-weight',o.fw||'normal');
  if(o.anchor)t.attr('text-anchor',o.anchor); if(o.len)t.attr('textLength',o.len).attr('lengthAdjust','spacingAndGlyphs'); return t;}

// ADR labels
adrRatios.forEach((r,i)=>{const lv=dailyOpen+r*adrValue;
  T(svg,adrLabels[i],adrLabels[i].length>10?3400:3405,y(lv)+12.5,{ff:MONO,fs:16,fw:'bold',fill:'#f0f0f0'});});
T(svg,'order BUY',3410,y(orderBuy)+12,{ff:MONO,fs:16.5,fill:'#00ff00'});
T(svg,'Open',3435,y(dailyOpen)+12,{ff:SANS,fs:15,fw:'bold',fill:'#ffffff'});
T(svg,'yClose',3525,y(yClose)+10,{ff:MONO,fs:15.5,fw:'bold',fill:'#ffa500'});
T(svg,'yLow',3537,y(yLow)+23,{ff:MONO,fs:15.5,fw:'bold',fill:'#1eb4e6'});
T(svg,'order SELL',3405,y(orderSell)+12,{ff:MONO,fs:16.5,fill:'#ff69b4'});
T(svg,'yHigh',3530,y(yHigh)+12,{ff:MONO,fs:16.5,fw:'bold',fill:'#1eaae6'});

// info panel
const P=svg.append('g');
P.append('rect').attr('x',3687.5).attr('y',13.5).attr('width',95).attr('height',227).attr('fill','#1b2430').attr('stroke','#ffffff').attr('stroke-width',1.5);
T(P,symbolName,3772,32,{anchor:'end',fs:26,fw:'bold',ff:NARROW,len:58});
T(P,String(bidPrice),3771,56,{anchor:'end',fs:22,fw:'bold',ff:MONO,fill:'#19e6ee',len:69});
T(P,'SPD:'+spread,3772,73,{anchor:'end',fs:13,fw:'bold',ff:MONO,len:61});
T(P,barTimer,3772,89,{anchor:'end',fs:17,fw:'bold',ff:MONO,fill:'#19e6ee',len:38});
T(P,'Daily Open',3772,104,{anchor:'end',fs:13,fw:'bold',ff:'"DejaVu Sans",sans-serif',len:75});
T(P,String(dailyOpen),3763,121,{anchor:'end',fs:17,fw:'bold',ff:MONO,fill:'#ee82ee',len:54});
T(P,'BidRatio',3769,137,{anchor:'end',fs:14,fw:'bold',ff:MONO,fill:'#ffd700',len:71});
P.append('rect').attr('x',3710).attr('y',146).attr('width',51).attr('height',17).attr('fill','#4a6f96');
T(P,bidRatio+'%',3736,155,{anchor:'middle',fs:19,fw:'bold',fill:'#a8acb2',len:38});
T(P,'P2Op',3699,172,{fs:14,len:34});
T(P,String(p2op),3771,172,{anchor:'end',fs:14,fill:'#ee82ee',len:28});
T(P,'HiLo',3704,188,{fs:14,fill:'#b4b4b4',len:29});
T(P,String(hiLo),3771,188,{anchor:'end',fs:14,fill:'#d0d0d0',len:24});
T(P,'ADR',3707,204,{fs:14,len:26});
T(P,String(adrValue),3771,204,{anchor:'end',fs:14,fill:'#32cd32',len:24});
T(P,adrPct+'%',3705,229,{fs:21,fw:'bold',fill:'#ee82ee',len:48});
T(P,'ADR',3755,221,{fs:10,len:22});
symbols.forEach((s,k)=>{const cy=261+k*19;
  P.append('rect').attr('x',3686).attr('y',cy-8).attr('width',70).attr('height',16).attr('fill','#1f1f1f').attr('stroke','#3a3a3a');
  P.append('rect').attr('x',3759).attr('y',cy-8).attr('width',24).attr('height',16).attr('fill','#1f1f1f').attr('stroke','#3a3a3a');
  T(P,s,3721,cy,{anchor:'middle',fs:13.5,fill:s===symbolName?'#00d8d8':'#e0e0e0'});
  T(P,periods[k],3771,cy,{anchor:'middle',fs:13.5,fill:periods[k]===timeframe.slice(1)?'#00d8d8':'#e0e0e0'});
});

// header
svg.append('path').attr('d','M5,8 L11,8 L8,12 Z').attr('fill','#e0e0e0');
T(svg,symbolName+','+timeframe,14,10,{fs:9,fill:'#d8d8d8'});
const clockBox=[[80,154,'#9b2428'],[237,133,'#9b2428'],[371,149,'#0a74d0']];
clocks.forEach((c,i)=>{const b=clockBox[i];
  svg.append('rect').attr('x',b[0]).attr('y',4).attr('width',b[1]).attr('height',16).attr('fill',b[2]);
  T(svg,c[0]+'\u00a0\u00a0'+c[1],b[0]+b[1]/2,12.5,{anchor:'middle',fs:14,fw:'bold',fill:'#ffffff',len:b[1]-18});
});
mmiInfo.forEach((s,i)=>T(svg,s,16,[35,47,59,71,82][i],{fs:9,fill:'#d8d8d8'}));

// OFF / DOWN TREND
svg.append('rect').attr('x',8.5).attr('y',1905.5).attr('width',38).attr('height',22).attr('fill','#2a2b2e').attr('stroke','#707070');
T(svg,'OFF',27.5,1917,{anchor:'middle',fs:11,fill:'#8a8a8a'});
svg.append('rect').attr('x',4).attr('y',1933).attr('width',168).attr('height',24).attr('fill','#dc143c');
T(svg,'DOWN TREND',88,1945.5,{anchor:'middle',fs:21,fw:'bold',ff:NARROW,fill:'#c8c8c8',len:152});

// price axis
svg.append('line').attr('x1',AX+0.5).attr('x2',AX+0.5).attr('y1',0).attr('y2',2093).attr('stroke','#ffffff');
const pa=svg.append('g').attr('transform',`translate(${AX+1},0)`)
  .call(d3.axisRight(y).tickValues(priceTicks).tickFormat(d3.format('.2f')).tickSize(4).tickSizeOuter(0).tickPadding(2));
pa.select('.domain').remove();
pa.selectAll('line').attr('stroke','#d8d8d8');
pa.selectAll('text').attr('fill','#dcdcdc').style('font-family',SANS).style('font-size','9.5px');
svg.append('rect').attr('x',AX+2).attr('y',y(currentPrice)-6).attr('width',W-AX-2).attr('height',12).attr('fill','#ffffff');
T(svg,currentPrice.toFixed(2),AX+6,y(currentPrice),{fs:9.5,fill:'#2a2a2a'});

// sub window
const sub=svg.append('g');
sub.append('line').attr('x1',0).attr('x2',AX).attr('y1',1958.5).attr('y2',1958.5).attr('stroke','#ffffff');
sub.append('rect').attr('x',0.5).attr('y',1960.5).attr('width',AX).attr('height',131.5).attr('fill','#5b6770').attr('stroke','#ffffff');
daySeps.forEach(b=>{const xx=Math.round(x(b))+0.5;
  sub.append('line').attr('x1',xx).attr('x2',xx).attr('y1',1961).attr('y2',2092)
   .attr('stroke','#ece2ee').attr('stroke-opacity',0.85).attr('stroke-dasharray','3,3');});
const histCol={b:'#5aaae8',k:'#1e1e20',p:'#ff88ee',r:'#ff0000',g:'#00ee00'};
histVal.forEach((v,i)=>{if(!v)return;
  const y0=ys(0), y1=ys(v);
  sub.append('rect').attr('x',x(i)-3).attr('width',6).attr('y',Math.min(y0,y1)).attr('height',Math.abs(y1-y0)).attr('fill',histCol[histClass[i]]);
});
const zz=closes.map((c,i)=>spikeUp.includes(i)?17:spikeDown.includes(i)?-17:0);
sub.append('path').attr('d',d3.line().x((d,i)=>x(i)).y(d=>ys(d))(zz)).attr('fill','none').attr('stroke','#ffffff').attr('stroke-width',2.4).attr('stroke-linejoin','miter');
const subLab=d3.scaleLinear().domain([-17,17]).range([2085,1966]);
const sa=svg.append('g').attr('transform',`translate(${AX+1},0)`)
  .call(d3.axisRight(subLab).tickValues(subTicks).tickFormat(d=>d===0?'0.00':String(d)).tickSize(3).tickSizeOuter(0).tickPadding(3));
sa.select('.domain').remove();
sa.selectAll('line').attr('stroke','#d8d8d8');
sa.selectAll('text').attr('fill','#dcdcdc').style('font-family',SANS).style('font-size','9.5px');

// time axis
const ta=svg.append('g').attr('transform','translate(0,2092)')
  .call(d3.axisBottom(x).tickValues(d3.range(0,N,8)).tickFormat((d,i)=>timeLabels[i]).tickSize(5).tickSizeOuter(0).tickPadding(4));
ta.select('.domain').remove();
ta.selectAll('line').attr('stroke','#dfe6ee');
ta.selectAll('text').attr('text-anchor','start').attr('x',3).attr('fill','#e4ecf4')
  .style('font-family',NARROW).style('font-size','10.5px')
  .each(function(d,i){d3.select(this).attr('textLength',timeLabels[i].length*4.55).attr('lengthAdjust','spacingAndGlyphs');});
svg.append('line').attr('x1',0).attr('x2',W).attr('y1',2114.5).attr('y2',2114.5).attr('stroke','#ffffff');
</script></body></html>
